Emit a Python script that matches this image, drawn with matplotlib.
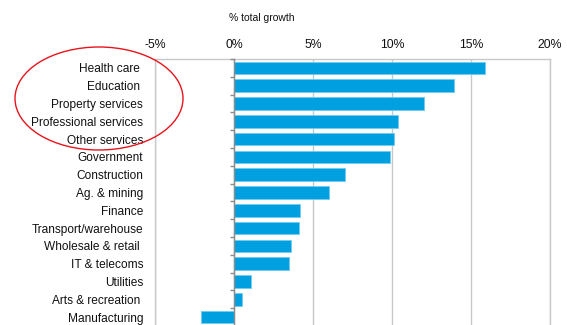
import numpy as np
import matplotlib
matplotlib.use("Agg")
import matplotlib.pyplot as plt
from matplotlib.patches import Ellipse

plt.rcParams['font.family'] = ['Liberation Sans', 'DejaVu Sans']

# Contribution to total employment growth by industry (%)
industries = [
    "Health care ", "Education ", "Property services", "Professional services",
    "Other services", "Government", "Construction", "Ag. & mining", "Finance",
    "Transport/warehouse", "Wholesale & retail ", "IT & telecoms", "Utilities",
    "Arts & recreation ", "Manufacturing",
]
growth = [15.9, 13.9, 12.0, 10.4, 10.1, 9.9, 7.0, 6.0, 4.2, 4.1, 3.6, 3.5, 1.1, 0.5, -2.1]
x_ticks = [-5, 0, 5, 10, 15, 20]
x_tick_labels = ["-5%", "0%", "5%", "10%", "15%", "20%"]

W, H = 567, 325
fig = plt.figure(figsize=(W / 100, H / 100), dpi=100)
left, right, top, bottom = 155, 550, 59, 326
ax = fig.add_axes([left / W, 1 - bottom / H, (right - left) / W, (bottom - top) / H])

y = np.arange(len(industries))
ax.barh(y, growth, height=0.7, color="#009FDF", edgecolor="#6DCDF2", linewidth=0.6, zorder=3)

ax.set_xlim(-5, 20)
ax.set_ylim(len(industries) - 0.5, -0.5)

ax.set_xticks(x_ticks)
ax.set_xticklabels(x_tick_labels)
ax.xaxis.tick_top()
ax.tick_params(axis="x", length=0, pad=5.5, labelsize=8.8, colors="#111111")
ax.grid(axis="x", color="#C8C8C8", linewidth=1.0, zorder=0)

ax.set_yticks(y)
ax.set_yticklabels(industries)
ax.tick_params(axis="y", length=0, pad=8.5, labelsize=8.6, colors="#111111")

for side in ("top", "right", "left"):
    ax.spines[side].set_color("#C8C8C8")
    ax.spines[side].set_linewidth(1.0)
ax.spines["bottom"].set_visible(False)

# Category axis drawn along the zero line, with tick marks between bars
ax2 = ax.twinx()
ax2.set_ylim(ax.get_ylim())
for side in ("top", "right", "bottom"):
    ax2.spines[side].set_visible(False)
ax2.spines["left"].set_visible(True)
ax2.spines["left"].set_position(("data", 0))
ax2.spines["left"].set_color("#8C8C8C")
ax2.spines["left"].set_linewidth(1.0)
ax2.yaxis.set_ticks_position("left")
ax2.set_yticks(np.arange(-0.5, len(industries), 1.0))
ax2.set_yticklabels([])
ax2.tick_params(axis="y", length=3, width=1.0, color="#8C8C8C", direction="out")

fig.text(262 / W, 1 - 18 / H, "% total growth", ha="center", va="center",
         fontsize=7.5, color="#111111")

# Highlight the services group
ell = Ellipse((99 / W, 1 - 98.5 / H), 168 / W, 103 / H, transform=fig.transFigure,
              fill=False, edgecolor="#E8141C", linewidth=1.0)
fig.patches.append(ell)

fig.savefig("out.png", dpi=100)
